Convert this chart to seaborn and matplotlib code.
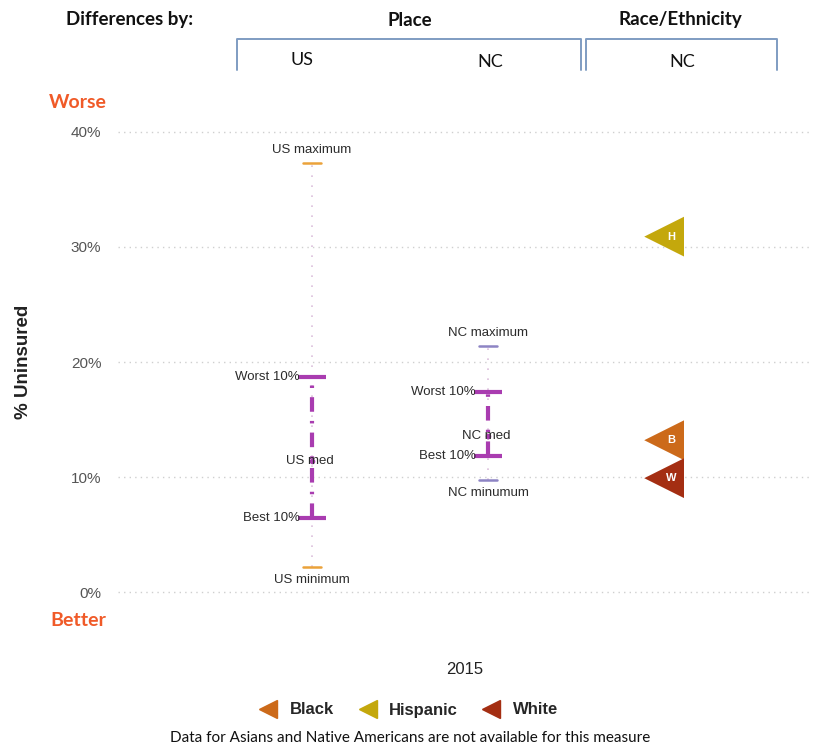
import matplotlib
matplotlib.use("Agg")
import matplotlib.pyplot as plt
from matplotlib.lines import Line2D
import seaborn as sns
import pandas as pd

# ---- data ----
places = ["US", "NC"]
place_min = [2.2, 9.7]
place_best10 = [6.4, 11.8]
place_median = [11.4, 13.6]
place_worst10 = [18.7, 17.4]
place_max = [37.3, 21.4]
place_labels_max = ["US maximum", "NC maximum"]
place_labels_min = ["US minimum", "NC minumum"]
place_labels_med = ["US med", "NC med"]

races = ["Black", "Hispanic", "White"]
race_values = [13.2, 30.9, 9.9]
race_letters = ["B", "H", "W"]
race_colors = ["#cc6a1a", "#c4a80c", "#a42e12"]

yticks = [0, 10, 20, 30, 40]
ytick_labels = ["0%", "10%", "20%", "30%", "40%"]

W, H = 821, 750
sns.set_style("white")
plt.rcParams["font.family"] = ["Liberation Sans", "DejaVu Sans"]

fig = plt.figure(figsize=(W / 100, H / 100), dpi=100)

def fx(px):
    return px / W

def fy(py):
    return 1 - py / H

ax_l, ax_r, ax_t, ax_b = 118, 812, 120, 604
ax = fig.add_axes([fx(ax_l), fy(ax_b), fx(ax_r - ax_l), (ax_b - ax_t) / H])

place_x = [0, 1]
race_x = 2

purple = "#a93cb0"
cap_w = 0.08

for i, p in enumerate(places):
    x = place_x[i]
    # faint full range
    ax.plot([x, x], [place_min[i], place_max[i]], color="#dcc0dc", lw=1.2,
            ls=(0, (1, 5)), zorder=1)
    # 10-90 range
    ax.plot([x, x], [place_best10[i], place_worst10[i]], color=purple, lw=3,
            ls=(0, (3.5, 2.2, 0.6, 2.2)), zorder=2)
    ax.plot([x - cap_w, x + cap_w], [place_worst10[i]] * 2, color=purple, lw=3, zorder=3,
            solid_capstyle="butt")
    ax.plot([x - cap_w, x + cap_w], [place_best10[i]] * 2, color=purple, lw=3, zorder=3,
            solid_capstyle="butt")
    ax.plot([x], [place_median[i]], marker="o", ms=3, color=purple, zorder=3)
    mm_col = "#eba23a" if p == "US" else "#8d84c4"
    ax.plot([x - 0.05, x + 0.05], [place_max[i]] * 2, color=mm_col, lw=1.8, zorder=3)
    ax.plot([x - 0.05, x + 0.05], [place_min[i]] * 2, color=mm_col, lw=1.8, zorder=3)
    tk = dict(fontsize=9.5, color="#2b2b2b", zorder=5)
    ax.text(x, place_max[i] + 0.6, place_labels_max[i], ha="center", va="bottom", **tk)
    ax.text(x, place_min[i] - 0.6, place_labels_min[i], ha="center", va="top", **tk)
    ax.text(x - 0.01, place_median[i], place_labels_med[i], ha="center", va="center", **tk)
    ax.text(x - 0.07, place_worst10[i], "Worst 10%", ha="right", va="center", **tk)
    ax.text(x - 0.07, place_best10[i], "Best 10%", ha="right", va="center", **tk)

race_df = pd.DataFrame({"race": races, "value": race_values,
                        "x": [race_x] * len(races)})
sns.scatterplot(data=race_df, x="x", y="value", hue="race", palette=race_colors,
                marker="<", s=820, linewidth=0, ax=ax, legend=False, zorder=4)
for r, v, letter in zip(races, race_values, race_letters):
    ax.text(race_x + 0.04, v, letter, ha="center", va="center", color="white",
            fontsize=8, fontweight="bold", zorder=6)

ax.set_xlim(-1.102, 2.84)
ax.set_ylim(-1.04, 41.04)
ax.set_yticks(yticks)
ax.set_yticklabels(ytick_labels, fontsize=11, color="#555555")
ax.tick_params(axis="y", length=0, pad=12)
ax.set_xticks([])
for y in yticks:
    ax.axhline(y, color="#cfcfcf", lw=1, ls=(0, (1, 3)), zorder=0)
for s in ax.spines.values():
    s.set_visible(False)
ax.set_xlabel("2015", fontsize=12, color="#222222", labelpad=42)
ax.set_ylabel("% Uninsured", fontsize=13.5, fontweight="bold", color="#222222", labelpad=28)

# legend
handles = [Line2D([], [], marker="<", ls="", color=c, markersize=13) for c in race_colors]
fig.legend(handles, races, loc="center", bbox_to_anchor=(fx(405), fy(710)), ncol=3,
           frameon=False, prop={"weight": "bold", "size": 12}, handletextpad=0.3,
           columnspacing=1.0)

# header
hdr = dict(family=["Lato", "DejaVu Sans"], color="#111111")
fig.text(fx(130), fy(20), "Differences by:", ha="center", va="center", fontsize=13.5,
         fontweight="bold", **hdr)
fig.text(fx(410), fy(20), "Place", ha="center", va="center", fontsize=13.5,
         fontweight="bold", **hdr)
fig.text(fx(680), fy(20), "Race/Ethnicity", ha="center", va="center", fontsize=13.5,
         fontweight="bold", **hdr)
fig.text(fx(302), fy(60), "US", ha="center", va="center", fontsize=13, **hdr)
fig.text(fx(490), fy(62), "NC", ha="center", va="center", fontsize=13, **hdr)
fig.text(fx(682), fy(62), "NC", ha="center", va="center", fontsize=13, **hdr)
bc = "#7f9cc2"
for (l, r) in [(237, 581), (586, 777)]:
    fig.add_artist(Line2D([fx(l), fx(l), fx(r), fx(r)], [fy(70), fy(39), fy(39), fy(70)],
                          color=bc, lw=1.4))

orange = "#f05a28"
fig.text(fx(78), fy(102), "Worse", ha="center", va="center", fontsize=14,
         fontweight="bold", color=orange, family=["Lato", "DejaVu Sans"])
fig.text(fx(78), fy(620), "Better", ha="center", va="center", fontsize=14,
         fontweight="bold", color=orange, family=["Lato", "DejaVu Sans"])

fig.text(fx(410), fy(738), "Data for Asians and Native Americans are not available for this measure",
         ha="center", va="center", fontsize=11, color="#111111",
         family=["Lato", "DejaVu Sans"])

fig.savefig("out.png", dpi=100)
